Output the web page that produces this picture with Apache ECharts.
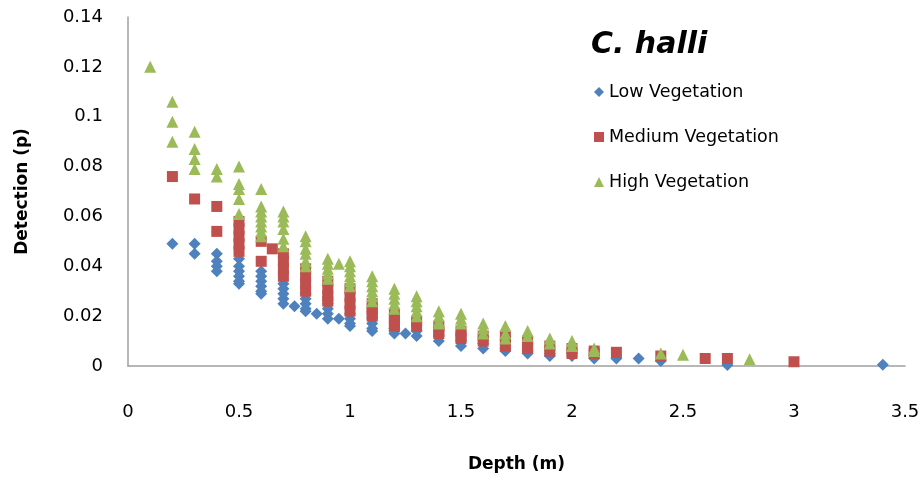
<!DOCTYPE html>
<html>
<head>
<meta charset="utf-8">
<script src="https://cdn.jsdelivr.net/npm/echarts@6/dist/echarts.min.js"></script>
<style>html,body{margin:0;padding:0;background:#fff}#c{width:924px;height:480px}</style>
</head>
<body>
<div id="c"></div>
<script>
var seriesNames = ['Low Vegetation', 'Medium Vegetation', 'High Vegetation'];
var xTicks = [0, 0.5, 1, 1.5, 2, 2.5, 3, 3.5];
var yTicks = [0, 0.02, 0.04, 0.06, 0.08, 0.1, 0.12, 0.14];

var lowVegetation = [
  [0.2,0.049],
  [0.3,0.049],[0.3,0.045],
  [0.4,0.045],[0.4,0.042],[0.4,0.040],[0.4,0.038],
  [0.5,0.043],[0.5,0.040],[0.5,0.038],[0.5,0.036],[0.5,0.034],[0.5,0.033],
  [0.6,0.038],[0.6,0.036],[0.6,0.034],[0.6,0.032],[0.6,0.030],[0.6,0.029],
  [0.7,0.033],[0.7,0.031],[0.7,0.029],[0.7,0.027],[0.7,0.025],
  [0.75,0.024],
  [0.8,0.029],[0.8,0.027],[0.8,0.025],[0.8,0.023],[0.8,0.022],
  [0.85,0.021],
  [0.9,0.025],[0.9,0.023],[0.9,0.021],[0.9,0.019],
  [0.95,0.019],
  [1.0,0.021],[1.0,0.019],[1.0,0.017],[1.0,0.016],
  [1.1,0.019],[1.1,0.017],[1.1,0.015],[1.1,0.014],
  [1.2,0.015],[1.2,0.014],[1.2,0.013],
  [1.25,0.013],
  [1.3,0.014],[1.3,0.012],
  [1.4,0.012],[1.4,0.010],
  [1.5,0.010],[1.5,0.008],
  [1.6,0.009],[1.6,0.007],
  [1.7,0.007],[1.7,0.006],
  [1.8,0.006],[1.8,0.005],
  [1.9,0.005],[1.9,0.004],
  [2.0,0.005],[2.0,0.004],
  [2.1,0.004],[2.1,0.003],
  [2.2,0.003],
  [2.3,0.003],
  [2.4,0.002],
  [2.7,0.0004],
  [3.4,0.0005]
];

var mediumVegetation = [
  [0.2,0.076],
  [0.3,0.067],
  [0.4,0.064],[0.4,0.054],
  [0.5,0.058],[0.5,0.055],[0.5,0.052],[0.5,0.049],[0.5,0.046],
  [0.6,0.050],[0.6,0.042],
  [0.65,0.047],
  [0.7,0.045],[0.7,0.042],[0.7,0.039],[0.7,0.036],
  [0.8,0.039],[0.8,0.036],[0.8,0.033],[0.8,0.030],
  [0.9,0.034],[0.9,0.031],[0.9,0.028],[0.9,0.026],
  [1.0,0.031],[1.0,0.028],[1.0,0.025],[1.0,0.022],
  [1.1,0.025],[1.1,0.023],[1.1,0.021],[1.1,0.020],
  [1.2,0.021],[1.2,0.019],[1.2,0.017],[1.2,0.016],
  [1.3,0.018],[1.3,0.016],
  [1.4,0.016],[1.4,0.014],[1.4,0.013],
  [1.5,0.014],[1.5,0.012],[1.5,0.011],
  [1.6,0.012],[1.6,0.010],
  [1.7,0.012],[1.7,0.010],[1.7,0.008],
  [1.8,0.010],[1.8,0.008],[1.8,0.007],
  [1.9,0.008],[1.9,0.006],
  [2.0,0.007],[2.0,0.005],
  [2.1,0.006],[2.1,0.005],
  [2.2,0.0055],
  [2.4,0.004],
  [2.6,0.003],
  [2.7,0.003],
  [3.0,0.0017]
];

var highVegetation = [
  [0.1,0.120],
  [0.2,0.106],[0.2,0.098],[0.2,0.090],
  [0.3,0.094],[0.3,0.087],[0.3,0.083],[0.3,0.079],
  [0.4,0.079],[0.4,0.076],
  [0.5,0.080],[0.5,0.073],[0.5,0.071],[0.5,0.067],[0.5,0.061],
  [0.6,0.071],[0.6,0.064],[0.6,0.062],[0.6,0.060],[0.6,0.058],[0.6,0.056],[0.6,0.054],[0.6,0.052],
  [0.7,0.062],[0.7,0.060],[0.7,0.058],[0.7,0.055],[0.7,0.051],[0.7,0.048],
  [0.8,0.052],[0.8,0.050],[0.8,0.047],[0.8,0.045],[0.8,0.042],[0.8,0.040],
  [0.9,0.043],[0.9,0.041],[0.9,0.039],[0.9,0.037],[0.9,0.035],
  [0.95,0.041],
  [1.0,0.042],[1.0,0.040],[1.0,0.038],[1.0,0.036],[1.0,0.034],[1.0,0.032],
  [1.1,0.036],[1.1,0.034],[1.1,0.032],[1.1,0.030],[1.1,0.028],[1.1,0.026],
  [1.2,0.031],[1.2,0.029],[1.2,0.027],[1.2,0.025],[1.2,0.023],
  [1.3,0.028],[1.3,0.026],[1.3,0.024],[1.3,0.022],[1.3,0.020],
  [1.4,0.022],[1.4,0.020],[1.4,0.018],[1.4,0.017],
  [1.5,0.021],[1.5,0.019],[1.5,0.017],
  [1.6,0.017],[1.6,0.015],[1.6,0.013],
  [1.7,0.016],[1.7,0.013],[1.7,0.011],
  [1.8,0.014],[1.8,0.012],
  [1.9,0.011],[1.9,0.009],
  [2.0,0.010],[2.0,0.008],
  [2.1,0.007],[2.1,0.006],
  [2.4,0.005],
  [2.5,0.0045],
  [2.8,0.0027]
];

var FONT = 'DejaVu Sans';
var chart = echarts.init(document.getElementById('c'), null, {renderer: 'canvas'});
chart.setOption({
  animation: false,
  backgroundColor: '#ffffff',
  title: {
    text: 'C. halli',
    left: 591, top: 30, padding: 0,
    textStyle: {fontFamily: FONT, fontSize: 30, fontWeight: 'bold', fontStyle: 'italic', color: '#000'}
  },
  legend: {
    orient: 'vertical',
    left: 594, top: 82, padding: 0,
    itemWidth: 10, itemHeight: 10, itemGap: 25,
    data: [
      {name: seriesNames[0], icon: 'diamond'},
      {name: seriesNames[1], icon: 'rect'},
      {name: seriesNames[2], icon: 'triangle'}
    ],
    textStyle: {fontFamily: FONT, fontSize: 17.5, color: '#000', lineHeight: 20}
  },
  grid: {left: 128, right: 19, top: 17, bottom: 114, containLabel: false, outerBoundsMode: 'none'},
  xAxis: {
    type: 'value', min: xTicks[0], max: xTicks[xTicks.length-1], interval: 0.5,
    name: 'Depth (m)', nameLocation: 'middle', nameGap: 90,
    nameTextStyle: {fontFamily: FONT, fontSize: 17, fontWeight: 'bold', color: '#000'},
    axisLine: {show: true, lineStyle: {color: '#A0A0A0', width: 1.5}},
    axisTick: {show: false},
    splitLine: {show: false},
    axisLabel: {fontFamily: FONT, fontSize: 18, color: '#000', margin: 37}
  },
  yAxis: {
    type: 'value', min: yTicks[0], max: yTicks[yTicks.length-1], interval: 0.02,
    name: 'Detection (p)', nameLocation: 'middle', nameGap: 97,
    nameTextStyle: {fontFamily: FONT, fontSize: 17, fontWeight: 'bold', color: '#000'},
    axisLine: {show: true, lineStyle: {color: '#A0A0A0', width: 1.5}},
    axisTick: {show: false},
    splitLine: {show: false},
    axisLabel: {fontFamily: FONT, fontSize: 18, color: '#000', margin: 25}
  },
  series: [
    {name: seriesNames[0], type: 'scatter', symbol: 'diamond', symbolSize: 12, data: lowVegetation, itemStyle: {color: '#4F81BD', opacity: 1}},
    {name: seriesNames[1], type: 'scatter', symbol: 'rect', symbolSize: 11, data: mediumVegetation, itemStyle: {color: '#C0504D', opacity: 1}},
    {name: seriesNames[2], type: 'scatter', symbol: 'triangle', symbolSize: 12, data: highVegetation, itemStyle: {color: '#9BBB59', opacity: 1}}
  ]
});
</script>
</body>
</html>
